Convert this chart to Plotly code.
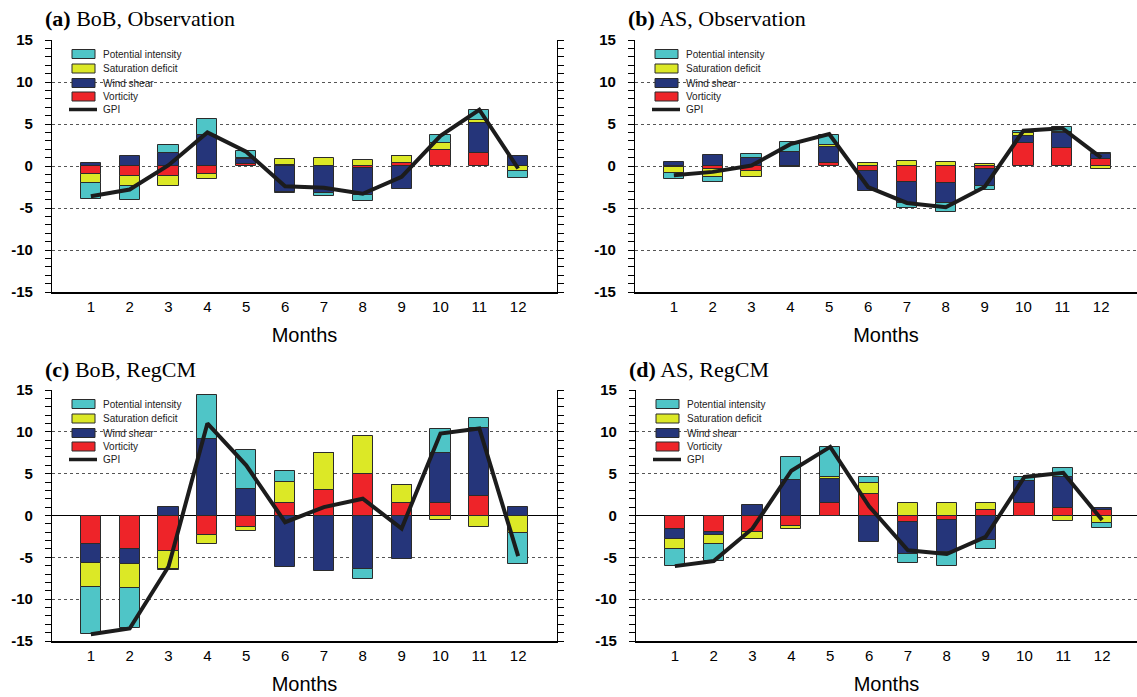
import plotly.graph_objects as go

months = list(range(1, 13))
series_names = ["Potential intensity", "Saturation deficit", "Wind shear", "Vorticity", "GPI"]
panel_titles = ["BoB, Observation", "AS, Observation", "BoB, RegCM", "AS, RegCM"]
panel_labels = ["(a)", "(b)", "(c)", "(d)"]
y_ticks = [-15, -10, -5, 0, 5, 10, 15]

# (a) BoB, Observation
a_vor = [-0.95, -1.2, -1.2, -0.95, 0.2, 0.1, 0.0, -0.2, 0.3, 1.9, 1.6, 0.0]
a_ws = [0.4, 1.2, 1.5, 3.65, 0.6, -3.05, -3.25, -3.3, -2.75, 0.0, 3.55, 1.2]
a_sd = [-1.1, -1.2, -1.15, -0.55, 0.15, 0.7, 1.0, 0.75, 0.95, 0.85, 0.3, -0.65]
a_pi = [-1.9, -1.6, 0.95, 1.9, 0.8, -0.2, -0.3, -0.7, 0.0, 1.0, 1.2, -0.8]
a_gpi = [-3.6, -2.8, 0.1, 4.0, 1.7, -2.4, -2.6, -3.3, -1.3, 3.6, 6.7, -0.3]

# (b) AS, Observation
b_vor = [-0.15, -0.4, -0.65, -0.15, 0.4, -0.65, -1.85, -2.0, -0.35, 2.7, 2.1, 0.8]
b_ws = [0.5, 1.3, 1.0, 1.65, 1.9, -2.3, -2.6, -2.4, -2.0, 0.9, 1.8, 0.6]
b_sd = [-0.65, -0.85, -0.7, 0.0, 0.2, 0.4, 0.55, 0.5, 0.25, 0.3, 0.1, -0.4]
b_pi = [-0.8, -0.7, 0.4, 1.15, 1.25, 0.0, -0.6, -1.1, -0.5, 0.3, 0.6, 0.1]
b_gpi = [-1.1, -0.7, 0.05, 2.6, 3.8, -2.5, -4.4, -4.9, -2.5, 4.2, 4.5, 1.0]

# (c) BoB, RegCM
c_vor = [-3.45, -4.05, -4.2, -2.3, -1.35, 1.5, 3.0, 5.0, 1.5, 1.5, 2.3, 0.0]
c_ws = [-2.2, -1.75, 1.0, 9.1, 3.2, -6.15, -6.65, -6.45, -5.2, 5.95, 8.15, 1.0]
c_sd = [-2.95, -2.9, -2.15, -1.1, -0.45, 2.45, 4.45, 4.45, 2.1, -0.55, -1.35, -2.15]
c_pi = [-5.6, -4.8, -0.2, 5.3, 4.6, 1.35, 0.0, -1.1, 0.0, 2.85, 1.25, -3.6]
c_gpi = [-14.2, -13.5, -6.1, 11.0, 6.0, -0.8, 1.0, 2.0, -1.55, 9.8, 10.4, -4.85]

# (d) AS, RegCM
d_vor = [-1.65, -1.95, -1.95, -1.25, 1.5, 2.6, -0.75, -0.5, 0.65, 1.5, 0.9, 0.65]
d_ws = [-1.2, -0.4, 1.25, 4.2, 2.9, -3.15, -3.8, -3.85, -2.95, 2.6, 3.7, 0.3]
d_sd = [-1.15, -1.1, -0.8, -0.4, 0.2, 1.3, 1.5, 1.45, 0.9, 0.0, -0.65, -0.95]
d_pi = [-2.05, -2.0, -0.1, 2.8, 3.6, 0.7, -1.1, -1.7, -1.1, 0.5, 1.05, -0.55]
d_gpi = [-6.05, -5.45, -1.55, 5.35, 8.2, 1.1, -4.15, -4.6, -2.55, 4.6, 5.1, -0.55]

W, H = 1137, 697


def px(x):
    return x / W


def py(y):
    return 1 - y / H


COL = {
    "Potential intensity": "#4FC5C7",
    "Saturation deficit": "#DCE826",
    "Wind shear": "#25357A",
    "Vorticity": "#EE2429",
}
EDGE = "#2b2b2b"

data_sets = [
    (a_vor, a_ws, a_sd, a_pi, a_gpi),
    (b_vor, b_ws, b_sd, b_pi, b_gpi),
    (c_vor, c_ws, c_sd, c_pi, c_gpi),
    (d_vor, d_ws, d_sd, d_pi, d_gpi),
]
# pixel geometry of each panel: left, right, top, bottom, x max, right axis shown
geom = [
    (52, 557, 40, 292, 13.0, True),
    (635, 1137, 40, 292, 13.0 * (1137 - 635) / 505, False),
    (52, 557, 390, 641, 13.0, True),
    (636, 1137, 390, 641, 13.0 * (1137 - 636) / 505, False),
]

fig = go.Figure()
shapes = []
annotations = []

for i, ((vor, ws, sd, pi, gpi), (L, R, T, B, xmax, mir)) in enumerate(zip(data_sets, geom)):
    sfx = "" if i == 0 else str(i + 1)
    xa, ya = "x" + sfx, "y" + sfx
    for name, vals in [("Vorticity", vor), ("Wind shear", ws),
                       ("Saturation deficit", sd), ("Potential intensity", pi)]:
        fig.add_trace(go.Bar(
            x=months, y=vals, name=name, width=0.52,
            marker=dict(color=COL[name], line=dict(color=EDGE, width=1)),
            xaxis=xa, yaxis=ya, showlegend=False,
        ))
    fig.add_trace(go.Scatter(
        x=months, y=gpi, name="GPI", mode="lines",
        line=dict(color="#1c1c1c", width=4),
        xaxis=xa, yaxis=ya, showlegend=False,
    ))

    zero_c = (i >= 2)
    fig.layout["xaxis" + sfx] = dict(
        domain=[px(L), px(R)], range=[0, xmax], anchor=ya, automargin=False,
        tickvals=months, ticktext=[str(m) for m in months],
        showgrid=False, zeroline=False, showline=True,
        linecolor="black", linewidth=2, ticks="",
        tickfont=dict(family="Liberation Sans, Arial", size=15, color="black"),
        title=dict(text="Months", standoff=14,
                   font=dict(family="Liberation Sans, Arial", size=20, color="black")),
    )
    fig.layout["yaxis" + sfx] = dict(
        domain=[py(B), py(T)], range=[-15, 15], anchor=xa, automargin=False,
        tickvals=y_ticks, ticktext=[str(v) for v in y_ticks],
        ticks="outside", ticklen=6, tickcolor="black", tickwidth=1,
        minor=dict(dtick=1, tick0=0, ticks="outside", ticklen=6,
                   tickcolor="black", tickwidth=1, showgrid=False),
        showline=True, linecolor="black", linewidth=1.2,
        mirror="ticks" if mir else False,
        showgrid=True, gridcolor="#555555", gridwidth=1, griddash="3px,3px",
        zeroline=zero_c, zerolinecolor="black", zerolinewidth=1,
        ticklabelstandoff=9,
        tickfont=dict(family="Liberation Sans, Arial", size=15, color="black", weight="bold"),
    )

    # panel title
    annotations.append(dict(
        x=px(L - 9), y=py(T - 21), xref="paper", yref="paper",
        xanchor="left", yanchor="middle", showarrow=False,
        text="<b>" + panel_labels[i] + "</b> " + panel_titles[i],
        font=dict(family="Liberation Serif, Times New Roman", size=22, color="black"),
    ))

    # legend (upper left, inside panel)
    sx0 = L + 20
    offs = [14, 28.5, 43, 56.5]
    for name, oy in zip(series_names[:4], offs):
        yc = T + oy
        shapes.append(dict(
            type="rect", xref="paper", yref="paper",
            x0=px(sx0), x1=px(sx0 + 23), y0=py(yc + 4.5), y1=py(yc - 4.5),
            fillcolor=COL[name], line=dict(color=EDGE, width=1), layer="above",
        ))
        annotations.append(dict(
            x=px(L + 49), y=py(yc), xref="paper", yref="paper",
            xanchor="left", yanchor="middle", showarrow=False, text=name,
            font=dict(family="Liberation Sans, Arial", size=10, color="#222222"),
        ))
    yc = T + 69.5
    shapes.append(dict(
        type="line", xref="paper", yref="paper",
        x0=px(L + 17), x1=px(L + 45), y0=py(yc), y1=py(yc),
        line=dict(color="#1c1c1c", width=3.5), layer="above",
    ))
    annotations.append(dict(
        x=px(L + 49), y=py(yc), xref="paper", yref="paper",
        xanchor="left", yanchor="middle", showarrow=False, text="GPI",
        font=dict(family="Liberation Sans, Arial", size=10, color="#222222"),
    ))

fig.update_layout(
    width=W, height=H, barmode="relative", bargap=0, autosize=False,
    margin=dict(l=0, r=0, t=0, b=0, pad=0, autoexpand=False),
    paper_bgcolor="white", plot_bgcolor="white",
    showlegend=False, shapes=shapes, annotations=annotations,
)

fig.write_html(
    "out.html",
    config={"displayModeBar": False},
    post_script="document.body.style.margin='0';document.body.style.padding='0';"
                "document.body.style.overflow='hidden';",
)
